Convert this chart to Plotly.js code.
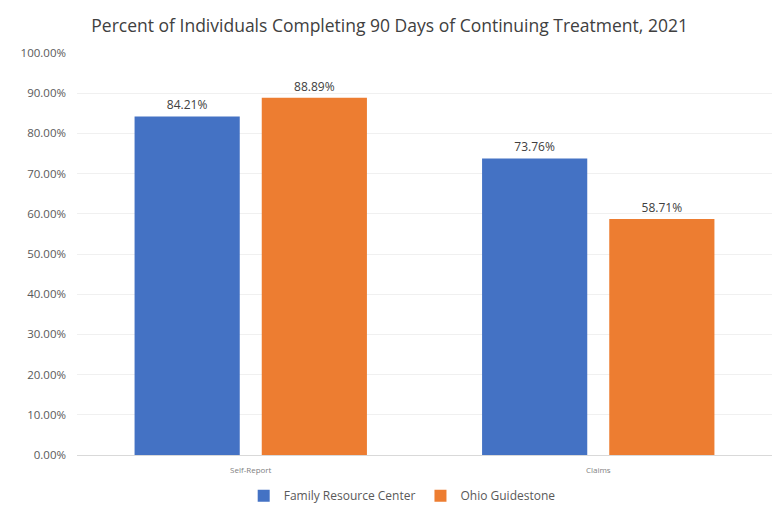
<!DOCTYPE html>
<html>
<head>
<meta charset="utf-8">
<script src="https://cdn.plot.ly/plotly-3.0.1.min.js"></script>
<style>
html,body{margin:0;padding:0;background:#fff;}
#chart{width:784px;height:518px;}
</style>
</head>
<body>
<div id="chart"></div>
<script>
const categories = ["Self-Report", "Claims"];
const seriesNames = ["Family Resource Center", "Ohio Guidestone"];
const familyResourceCenter = [84.21, 73.76];
const ohioGuidestone = [88.89, 58.71];
const yTickValues = [0, 10, 20, 30, 40, 50, 60, 70, 80, 90, 100];

const labelFont = {family: "Open Sans, Liberation Sans, sans-serif", size: 12, color: "#404040"};

const traces = [
  {
    type: "bar", name: seriesNames[0], x: categories, y: familyResourceCenter,
    marker: {color: "#4472C4"},
    texttemplate: "%{y:.2f}%", textposition: "outside", cliponaxis: false,
    textfont: labelFont, hoverinfo: "none"
  },
  {
    type: "bar", name: seriesNames[1], x: categories, y: ohioGuidestone,
    marker: {color: "#ED7D31"},
    texttemplate: "%{y:.2f}%", textposition: "outside", cliponaxis: false,
    textfont: labelFont, hoverinfo: "none"
  }
];

const layout = {
  width: 784, height: 518,
  margin: {l: 77, r: 12, t: 53, b: 63},
  paper_bgcolor: "#ffffff", plot_bgcolor: "#ffffff",
  title: {
    text: "Percent of Individuals Completing 90 Days of Continuing Treatment, 2021",
    font: {family: "Open Sans, Liberation Sans, sans-serif", size: 17.5, color: "#404040"},
    x: 0.497, xanchor: "center", xref: "container", y: 0.95, yanchor: "middle", yref: "container"
  },
  barmode: "group",
  bargap: 0.268,
  bargroupgap: 0.173,
  xaxis: {
    type: "category",
    tickfont: {family: "Open Sans, Liberation Sans, sans-serif", size: 8, color: "#7f7f7f"},
    showgrid: false, zeroline: false, showline: false, ticks: "",
    ticklabelstandoff: 9
  },
  yaxis: {
    range: [0, 100],
    tickvals: yTickValues,
    ticktext: yTickValues.map(v => v.toFixed(2) + "%"),
    tickfont: {family: "Open Sans, Liberation Sans, sans-serif", size: 11.5, color: "#595959"},
    gridcolor: "#f0f0f0", gridwidth: 1,
    zeroline: true, zerolinecolor: "#d9d9d9", zerolinewidth: 1,
    showline: false, ticks: "",
    ticklabelstandoff: 10
  },
  legend: {
    orientation: "h", x: 0.513, xanchor: "center", xref: "container",
    y: 0.043, yanchor: "middle", yref: "container",
    font: {family: "Open Sans, Liberation Sans, sans-serif", size: 12, color: "#595959"},
    traceorder: "normal", itemwidth: 30
  },
  showlegend: true
};

Plotly.newPlot("chart", traces, layout, {staticPlot: true, displayModeBar: false});
</script>
</body>
</html>
